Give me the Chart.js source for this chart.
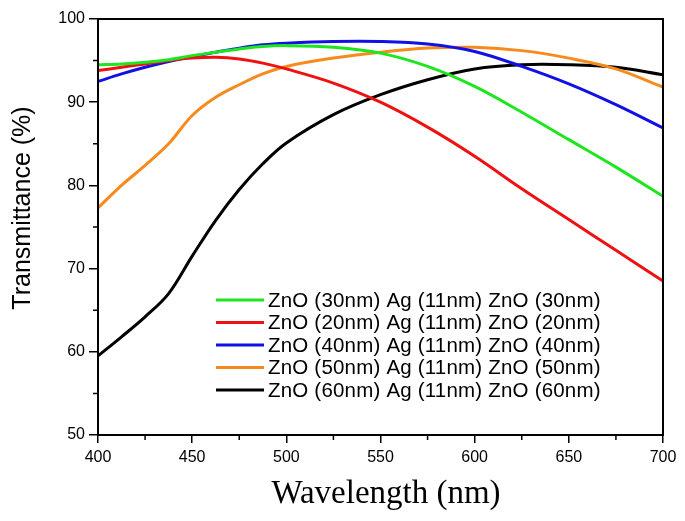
<!DOCTYPE html>
<html>
<head>
<meta charset="utf-8">
<script src="https://cdn.jsdelivr.net/npm/chart.js@4"></script>
<style>
  html, body { margin: 0; padding: 0; background: #fff; }
  #wrap { width: 685px; height: 521px; }
</style>
</head>
<body>
<div id="wrap"><canvas id="myChart" width="685" height="521"></canvas></div>
<script>
const wavelengths = [400, 412.5, 425, 437.5, 450, 462.5, 475, 487.5, 500, 525, 550, 575, 600, 625, 650, 675, 700]
const zno30 = [94.5, 94.6, 94.8, 95.1, 95.6, 96.0, 96.4, 96.7, 96.8, 96.6, 95.9, 94.3, 91.9, 88.8, 85.5, 82.2, 78.7]
const zno20 = [93.8, 94.2, 94.6, 95.0, 95.3, 95.4, 95.2, 94.7, 94.0, 92.3, 90.0, 87.0, 83.5, 79.6, 75.9, 72.2, 68.5]
const zno40 = [92.5, 93.4, 94.2, 94.9, 95.5, 96.0, 96.5, 96.9, 97.1, 97.3, 97.3, 97.0, 96.1, 94.3, 92.2, 89.7, 86.9]
const zno50 = [77.3, 80.0, 82.4, 85.0, 88.4, 90.6, 92.1, 93.4, 94.3, 95.3, 96.0, 96.5, 96.6, 96.2, 95.3, 94.0, 91.8]
const zno60 = [59.5, 61.8, 64.2, 67.0, 71.5, 75.8, 79.5, 82.6, 85.1, 88.5, 90.9, 92.7, 94.0, 94.5, 94.5, 94.2, 93.3]
const labels = [
    'ZnO (30nm) Ag (11nm) ZnO (30nm)',
    'ZnO (20nm) Ag (11nm) ZnO (20nm)',
    'ZnO (40nm) Ag (11nm) ZnO (40nm)',
    'ZnO (50nm) Ag (11nm) ZnO (50nm)',
    'ZnO (60nm) Ag (11nm) ZnO (60nm)',
]
const colors = ['#1ee61e', '#ee1111', '#1111e6', '#f78a1c', '#000000']
const xTicks = [400, 450, 500, 550, 600, 650, 700]
const yTicks = [50, 60, 70, 80, 90, 100]

const series = [zno30, zno20, zno40, zno50, zno60]
const sans = '"Liberation Sans", Arial, sans-serif'

// frame, minor ticks, axis titles and the legend inside the plot
const extras = {
    id: 'extras',
    afterDraw(chart) {
        const c = chart.ctx
        const a = chart.chartArea
        const xs = chart.scales.x
        const ys = chart.scales.y
        c.save()
        c.strokeStyle = '#000'
        c.lineWidth = 2
        c.strokeRect(a.left, a.top, a.right - a.left, a.bottom - a.top)
        c.lineWidth = 1.5
        c.beginPath()
        for (let v = 425; v < 700; v += 50) {
            const px = xs.getPixelForValue(v)
            c.moveTo(px, a.bottom)
            c.lineTo(px, a.bottom + 5)
        }
        for (let v = 55; v < 100; v += 10) {
            const py = ys.getPixelForValue(v)
            c.moveTo(a.left, py)
            c.lineTo(a.left - 5, py)
        }
        c.stroke()

        c.fillStyle = '#000'
        c.textAlign = 'center'
        c.textBaseline = 'middle'
        c.font = '33px "Liberation Serif", "Times New Roman", serif'
        c.fillText('Wavelength (nm)', 386, 494)
        c.save()
        c.translate(23, 208)
        c.rotate(-Math.PI / 2)
        c.font = '25px ' + sans
        c.fillText('Transmittance (%)', 0, 0)
        c.restore()

        c.textAlign = 'left'
        c.font = '20.5px ' + sans
        c.letterSpacing = '0.2px'
        chart.data.datasets.forEach((ds, i) => {
            const y = 300 + i * 22.5
            c.strokeStyle = ds.borderColor
            c.lineWidth = 3
            c.beginPath()
            c.moveTo(216, y)
            c.lineTo(264, y)
            c.stroke()
            c.fillText(ds.label, 268, y + 1)
        })
        c.restore()
    },
}

new Chart(document.getElementById('myChart'), {
    type: 'line',
    data: {
        datasets: series.map((s, i) => ({
            label: labels[i],
            data: s.map((v, j) => ({ x: wavelengths[j], y: v })),
            borderColor: colors[i],
            borderWidth: 3,
            pointRadius: 0,
            tension: 0.35,
            fill: false,
        })),
    },
    options: {
        responsive: false,
        animation: false,
        layout: { padding: { left: 0, right: 22, top: 19, bottom: 0 } },
        plugins: {
            legend: { display: false },
            tooltip: { enabled: false },
        },
        scales: {
            x: {
                type: 'linear',
                min: 400,
                max: 700,
                afterBuildTicks: (s) => { s.ticks = xTicks.map((v) => ({ value: v })) },
                afterFit: (s) => { s.height = 86 },
                grid: { drawOnChartArea: false, color: '#000', lineWidth: 1.5, tickLength: 8 },
                border: { display: false },
                ticks: { color: '#000', font: { size: 16, family: sans }, padding: 5, maxRotation: 0 },
            },
            y: {
                min: 50,
                max: 100,
                afterBuildTicks: (s) => { s.ticks = yTicks.map((v) => ({ value: v })) },
                afterFit: (s) => { s.width = 98 },
                grid: { drawOnChartArea: false, color: '#000', lineWidth: 1.5, tickLength: 9 },
                border: { display: false },
                ticks: { color: '#000', font: { size: 16, family: sans }, padding: 4 },
            },
        },
    },
    plugins: [extras],
})
</script>
</body>
</html>
